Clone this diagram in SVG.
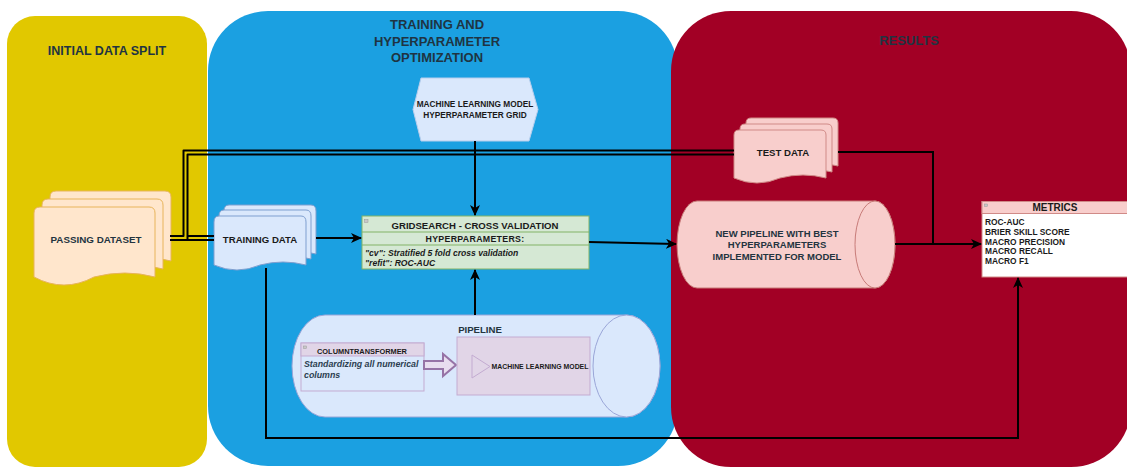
<svg xmlns="http://www.w3.org/2000/svg" width="1127" height="468" viewBox="0 0 1127 468">
<style>
text{font-family:"Liberation Sans",Arial,sans-serif;font-weight:bold;dominant-baseline:central}
.title{font-size:13px;fill:#1f3442;text-anchor:middle}
.lbl{fill:#1a1a1a;text-anchor:middle}
.slate{fill:#23343f}
.conn{fill:none;stroke:#000;stroke-width:2}
.link{fill:none;stroke:#000;stroke-width:2;stroke-linejoin:round}
.ital{font-style:italic;fill:#1a1a1a}
.met{font-size:8.4px;fill:#1a1a1a}
</style>
<defs>
<marker id="arr" markerUnits="userSpaceOnUse" markerWidth="12" markerHeight="10" refX="10" refY="5" orient="auto">
<path d="M0,0 L11,5 L0,10 L3,5 Z" fill="#000"/>
</marker>
</defs>

<g id="container-initial">
<rect x="7" y="16" width="200" height="451" rx="28" fill="#e1c800"/>
<text class="title" x="107" y="51" style="font-size:12.5px">INITIAL DATA SPLIT</text>
</g>
<g id="container-training">
<rect x="208" y="11" width="470" height="455" rx="60" fill="#1ba0e1"/>
<text class="title" x="437" y="24">TRAINING AND</text>
<text class="title" x="437" y="41">HYPERPARAMETER</text>
<text class="title" x="437" y="57">OPTIMIZATION</text>
</g>
<g id="container-results">
<rect x="671" y="11" width="460" height="456" rx="60" fill="#a20025"/>
<text class="title" x="909" y="40">RESULTS</text>
</g>

<g id="passing-dataset">
<path d="M50,253 L50,197 Q50,191 56,191 L165,191 Q171,191 171,197 L171,261 Q141,253 110,261 Q80,269 50,261 Z" fill="#ffe6cc" stroke="#e8b45a" stroke-width="1"/>
<path d="M42,261 L42,205 Q42,199 48,199 L157,199 Q163,199 163,205 L163,269 Q133,261 102,269 Q72,277 42,269 Z" fill="#ffe6cc" stroke="#e8b45a" stroke-width="1"/>
<path d="M34,277 L34,213 Q34,207 40,207 L149,207 Q155,207 155,213 L155,277 Q125,269 94,277 Q64,293 34,277 Z" fill="#ffe6cc" stroke="#e8b45a" stroke-width="1"/>
<text class="slate" x="96" y="239" style="font-size:9.8px;text-anchor:middle">PASSING DATASET</text>
</g>

<g id="training-data">
<path d="M224,211 Q224,205 229,205 L311,205 Q316,205 316,211 L316,254 Q293,248 270,254 Q247,262 224,254 Z" fill="#dae8fc" stroke="#7f9fd0" stroke-width="1"/>
<path d="M219,216 Q219,210 224,210 L306,210 Q311,210 311,216 L311,259 Q288,253 265,259 Q242,267 219,259 Z" fill="#dae8fc" stroke="#7f9fd0" stroke-width="1"/>
<path d="M214,222 Q214,216 219,216 L301,216 Q306,216 306,222 L306,265 Q283,259 260,265 Q237,275 214,265 Z" fill="#dae8fc" stroke="#7f9fd0" stroke-width="1"/>
<text class="lbl" x="260" y="239" style="font-size:9.6px">TRAINING DATA</text>
</g>

<g id="test-data">
<path d="M746,123 Q746,118 751,118 L833,118 Q838,118 838,123 L838,166 Q815,160 792,166 Q769,174 746,166 Z" fill="#f8cecc" stroke="#d08a87" stroke-width="1"/>
<path d="M740,129 Q740,124 745,124 L827,124 Q832,124 832,129 L832,172 Q809,166 786,172 Q763,180 740,172 Z" fill="#f8cecc" stroke="#d08a87" stroke-width="1"/>
<path d="M734,135 Q734,130 739,130 L821,130 Q826,130 826,135 L826,178 Q803,172 780,178 Q757,188 734,178 Z" fill="#f8cecc" stroke="#d08a87" stroke-width="1"/>
<text class="lbl" x="783" y="152" style="font-size:9.6px">TEST DATA</text>
</g>

<g id="hyperparameter-grid">
<polygon points="413,109.5 421,78 529,78 538,109.5 529,141 421,141" fill="#dae8fc" stroke="#b7cdec" stroke-width="1"/>
<text class="lbl" x="475" y="104" style="font-size:8.3px">MACHINE LEARNING MODEL</text>
<text class="lbl" x="475" y="115" style="font-size:8.3px">HYPERPARAMETER GRID</text>
</g>

<g id="gridsearch">
<rect x="362" y="216" width="227" height="53" fill="#d5e8d4" stroke="#82b366" stroke-width="1"/>
<line x1="362" y1="232" x2="589" y2="232" stroke="#82b366" stroke-width="1"/>
<line x1="362" y1="245" x2="589" y2="245" stroke="#82b366" stroke-width="1"/>
<rect x="364.5" y="219.5" width="3.5" height="3" fill="#c8c8c8" stroke="#999" stroke-width="0.5"/>
<text class="lbl" x="475" y="225" style="font-size:9.6px">GRIDSEARCH - CROSS VALIDATION</text>
<text class="lbl" x="475" y="239" style="font-size:8.8px;letter-spacing:0.3px">HYPERPARAMETERS:</text>
<text class="ital" x="365" y="252.5" style="font-size:8.6px">"cv": Stratified 5 fold cross validation</text>
<text class="ital" x="365" y="262.5" style="font-size:8.6px">"refit": ROC-AUC</text>
</g>

<g id="pipeline">
<path d="M325,315 L626.5,315 A33.5,51 0 0 1 626.5,417 L325,417 A33,51 0 0 1 325,315 Z" fill="#dae8fc" stroke="#9aa6d8" stroke-width="1"/>
<ellipse cx="626.5" cy="366" rx="33.5" ry="51" fill="#dae8fc" stroke="#9aa6d8" stroke-width="1"/>
<text class="slate" x="480" y="329" style="font-size:9.6px;text-anchor:middle">PIPELINE</text>
</g>

<g id="columntransformer">
<rect x="301" y="343" width="123" height="48" fill="#dae8fc" stroke="#c3abd1" stroke-width="1"/>
<rect x="301" y="343" width="123" height="13" fill="#e1d5e7" stroke="#c3abd1" stroke-width="1"/>
<rect x="303.5" y="346" width="3" height="2.5" fill="#c8c8c8" stroke="#999" stroke-width="0.5"/>
<text class="lbl" x="362" y="351" style="font-size:7.4px">COLUMNTRANSFORMER</text>
<text class="ital" x="304" y="364" style="font-size:8.8px;fill:#2c3e50">Standardizing all numerical</text>
<text class="ital" x="304" y="375" style="font-size:8.8px;fill:#2c3e50">columns</text>
</g>

<g id="transform-arrow">
<polygon points="424,361 443,361 443,354 456,365 443,376 443,369 424,369" fill="#e8ddef" stroke="#9673a6" stroke-width="2"/>
</g>

<g id="ml-model">
<rect x="457" y="337" width="133" height="58" fill="#e1d5e7" stroke="#c3abd1" stroke-width="1"/>
<polygon points="472,355 490,366.5 472,378" fill="none" stroke="#c3abd1" stroke-width="1"/>
<text class="lbl" x="540" y="366" style="font-size:6.9px">MACHINE LEARNING MODEL</text>
</g>

<g id="new-pipeline">
<path d="M697,201 L875,201 A20,43.5 0 0 1 875,288 L697,288 A20,43.5 0 0 1 697,201 Z" fill="#f8cecc" stroke="#c77b78" stroke-width="1"/>
<ellipse cx="875" cy="244.5" rx="20" ry="43.5" fill="#f8cecc" stroke="#c77b78" stroke-width="1"/>
<text class="slate" x="777" y="233" style="font-size:9.5px;text-anchor:middle">NEW PIPELINE WITH BEST</text>
<text class="slate" x="777" y="244.5" style="font-size:9.5px;text-anchor:middle">HYPERPARAMETERS</text>
<text class="slate" x="777" y="256" style="font-size:9.5px;text-anchor:middle">IMPLEMENTED FOR MODEL</text>
</g>

<g id="metrics">
<rect x="982" y="201.5" width="150" height="75.5" fill="#ffffff" stroke="#d08a87" stroke-width="1"/>
<rect x="982" y="201.5" width="150" height="12" fill="#f8cecc" stroke="#d08a87" stroke-width="1"/>
<rect x="984.5" y="204" width="3" height="2.5" fill="#c8c8c8" stroke="#999" stroke-width="0.5"/>
<text class="lbl" x="1055" y="207.5" style="font-size:10px">METRICS</text>
<text class="met" x="985" y="221.5">ROC-AUC</text>
<text class="met" x="985" y="231.5">BRIER SKILL SCORE</text>
<text class="met" x="985" y="241.5">MACRO PRECISION</text>
<text class="met" x="985" y="251">MACRO RECALL</text>
<text class="met" x="985" y="261">MACRO F1</text>
</g>

<g id="connectors">
<polyline class="link" points="170,236 183.5,236 183.5,150.5 734,150.5"/>
<polyline class="link" points="170,240 187.5,240 187.5,154.5 734,154.5"/>
<line class="link" x1="187" y1="236" x2="214" y2="236"/>
<line class="link" x1="187" y1="240" x2="214" y2="240"/>
<polyline class="conn" points="838,152 933,152 933,244"/>
<line class="conn" x1="895" y1="244" x2="981" y2="244" marker-end="url(#arr)"/>
<line class="conn" x1="475" y1="141" x2="475" y2="215" marker-end="url(#arr)"/>
<line class="conn" x1="316" y1="238" x2="361" y2="238" marker-end="url(#arr)"/>
<line class="conn" x1="589" y1="242" x2="676" y2="244" marker-end="url(#arr)"/>
<line class="conn" x1="475" y1="315" x2="475" y2="270" marker-end="url(#arr)"/>
<polyline class="conn" points="266,268 266,438 1018,438 1018,278" marker-end="url(#arr)"/>
</g>
</svg>
